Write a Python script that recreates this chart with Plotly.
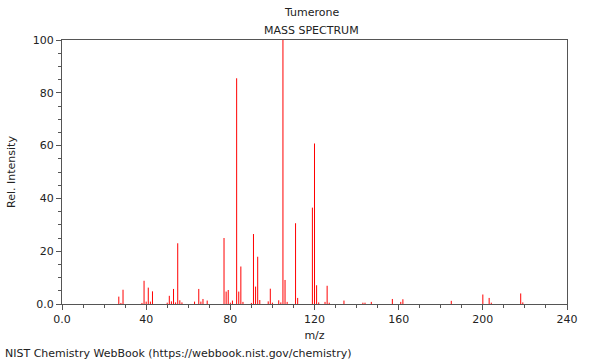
import plotly.graph_objects as go

mz = [27, 28, 29, 38, 39, 40, 41, 42, 43, 50, 51, 52, 53, 54, 55, 56, 57,
      63, 65, 66, 67, 69, 77, 78, 79, 80, 81, 83, 84, 85, 86, 90, 91, 92, 93, 94,
      98, 99, 100, 103, 104, 105, 106, 107, 111, 112, 119, 120, 121, 122, 125, 126, 127,
      134, 143, 144, 147, 157, 161, 162, 185, 200, 203, 204, 218, 219]
intensity = [2.8, 0.4, 5.4, 0.4, 8.8, 0.9, 6.2, 0.9, 4.8, 0.5, 3.1, 1.0, 5.7, 0.6, 23.0, 1.4, 0.6,
             0.9, 5.7, 0.9, 1.9, 1.3, 25.0, 4.7, 5.3, 0.5, 1.3, 85.5, 4.7, 14.2, 0.8, 0.4, 26.5, 6.6, 17.9, 1.5,
             1.0, 5.8, 0.5, 1.4, 0.6, 100.0, 9.1, 0.8, 30.6, 2.3, 36.5, 60.8, 7.1, 0.6, 0.8, 6.9, 0.5,
             1.3, 0.5, 0.5, 0.8, 1.9, 0.8, 1.8, 1.2, 3.6, 2.3, 0.5, 4.0, 0.6]

x_ticks = [0, 40, 80, 120, 160, 200, 240]
x_ticktext = ["0.0", "40", "80", "120", "160", "200", "240"]
y_ticks = [0, 20, 40, 60, 80, 100]
y_ticktext = ["0.0", "20", "40", "60", "80", "100"]

xs, ys = [], []
for m, h in zip(mz, intensity):
    xs += [m, m, None]
    ys += [0, h, None]

fig = go.Figure()
fig.add_trace(go.Scatter(x=xs, y=ys, mode="lines", connectgaps=False,
                         line=dict(color="rgb(255,0,0)", width=1),
                         hoverinfo="skip", showlegend=False))

axis_common = dict(showgrid=False, zeroline=False, showline=True,
                   linecolor="#555555", linewidth=1, mirror=True,
                   ticks="outside", ticklen=5, tickcolor="#555555",
                   tickfont=dict(family="DejaVu Sans", size=11, color="#222222"))

L, R, T, B = 62, 33, 40, 56
W, H = 600, 360
plot_h = H - T - B
plot_w = W - L - R

fig.update_layout(
    width=W, height=H,
    margin=dict(l=L, r=R, t=T, b=B),
    paper_bgcolor="white", plot_bgcolor="white",
    font=dict(family="DejaVu Sans", size=11, color="#222222"),
    hovermode=False,
    xaxis=dict(range=[0, 240], tickvals=x_ticks, ticktext=x_ticktext,
               minor=dict(dtick=10, ticks="outside", ticklen=3, tickcolor="#555555"),
               title=dict(text="m/z", font=dict(size=11), standoff=6),
               **axis_common),
    yaxis=dict(range=[0, 100], tickvals=y_ticks, ticktext=y_ticktext,
               minor=dict(dtick=5, ticks="outside", ticklen=3, tickcolor="#555555"),
               title=dict(text="Rel. Intensity", font=dict(size=11), standoff=14),
               **axis_common),
    annotations=[
        dict(text="Tumerone", x=0.494, y=(304 - 13) / plot_h, xref="paper", yref="paper",
             yanchor="middle", showarrow=False, font=dict(size=11)),
        dict(text="MASS SPECTRUM", x=0.494, y=(304 - 30) / plot_h, xref="paper", yref="paper",
             yanchor="middle", showarrow=False, font=dict(size=11)),
        dict(text="NIST Chemistry WebBook (https://webbook.nist.gov/chemistry)",
             x=(3 - L) / plot_w, y=(304 - 353) / plot_h, xref="paper", yref="paper",
             showarrow=False, font=dict(size=11), xanchor="left", yanchor="middle"),
    ],
)

fig.write_html("out.html", config={"displayModeBar": False},
               post_script="document.body.style.margin='0';")
